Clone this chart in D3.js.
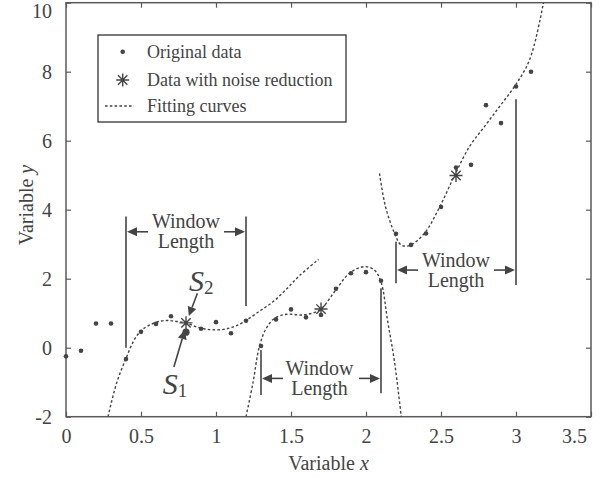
<!DOCTYPE html>
<html>
<head>
<meta charset="utf-8">
<script src="https://cdnjs.cloudflare.com/ajax/libs/d3/7.8.5/d3.min.js"></script>
<style>
	body { margin: 0; background: #fff; }
	svg text { font-family: "Liberation Serif", "Times New Roman", serif; fill: #444; }
</style>
</head>
<body>
<div id="chart"></div>
<script>
// tick values
var xTicks = [0, 0.5, 1, 1.5, 2, 2.5, 3, 3.5],
	yTicks = [-2, 0, 2, 4, 6, 8, 10];

// original data
var originalX = [0, 0.1, 0.2, 0.3, 0.4, 0.5, 0.6, 0.7, 0.8, 0.9, 1.0, 1.1, 1.2, 1.3, 1.4, 1.5,
	1.6, 1.7, 1.8, 1.9, 2.0, 2.1, 2.2, 2.3, 2.4, 2.5, 2.6, 2.7, 2.8, 2.9, 3.0, 3.1];
var originalY = [-0.25, -0.09, 0.70, 0.70, -0.33, 0.46, 0.69, 0.91, 0.45, 0.55, 0.74, 0.42, 0.78, 0.05, 0.82, 1.11,
	0.88, 0.95, 1.71, 2.16, 2.19, 1.94, 3.30, 2.98, 3.31, 4.08, 5.22, 5.30, 7.03, 6.51, 7.57, 8.00];

// data with noise reduction (window centres)
var reducedX = [0.8, 1.7, 2.6],
	reducedY = [0.72, 1.12, 4.99];

// fitting curves
var curveOne = [[0.28, -2.0], [0.337, -1.03], [0.40, -0.31], [0.448, 0.17], [0.497, 0.48], [0.55, 0.64],
	[0.62, 0.76], [0.68, 0.79], [0.74, 0.76], [0.80, 0.72], [0.86, 0.62], [0.92, 0.55], [0.98, 0.52],
	[1.05, 0.53], [1.12, 0.61], [1.19, 0.76], [1.29, 1.06], [1.38, 1.33], [1.47, 1.70], [1.557, 2.09], [1.684, 2.56]];
var curveTwo = [[1.20, -2.0], [1.246, -1.03], [1.29, 0.05], [1.335, 0.56], [1.39, 0.85], [1.47, 0.97],
	[1.58, 0.95], [1.69, 1.09], [1.79, 1.62], [1.89, 2.16], [1.99, 2.35], [2.056, 2.25], [2.10, 1.91],
	[2.145, 0.75], [2.19, -0.41], [2.235, -2.0]];
var curveThree = [[2.09, 5.05], [2.13, 4.09], [2.19, 3.32], [2.234, 2.98], [2.29, 2.96], [2.39, 3.32],
	[2.49, 4.07], [2.59, 4.99], [2.69, 5.83], [2.79, 6.41], [2.89, 6.99], [2.99, 7.57], [3.09, 8.34], [3.18, 9.93], [3.19, 10.2]];

// "Window Length" brackets, in data units
var windowLeft = [0.4, 1.3, 2.2],
	windowRight = [1.2, 2.1, 3.0],
	windowLeftSpan = [[0, 3.8], [-1.37, -0.07], [1.87, 3.07]],
	windowRightSpan = [[1.21, 3.8], [-1.32, 1.72], [1.82, 7.2]],
	windowArrowY = [3.36, -0.89, 2.25],
	windowTextX = [0.8, 1.69, 2.6];

var width = 611, height = 478,
	plotLeft = 66, plotRight = 591, plotTop = 2.7, plotBottom = 416.7,
	ink = "#444", axisColor = "#5a5a5a";

var svg = d3.select("#chart").append("svg")
	.attr("width", width)
	.attr("height", height)
	.style("background", "#fff");

var x = d3.scaleLinear().domain([0, 3.5]).range([plotLeft, plotRight]);
var y = d3.scaleLinear().domain([-2, 10]).range([plotBottom, plotTop]);

svg.append("clipPath").attr("id", "plotClip")
	.append("rect")
	.attr("x", plotLeft).attr("y", plotTop)
	.attr("width", plotRight - plotLeft).attr("height", plotBottom - plotTop);

function plain(d) {
	// MATLAB style labels: plain hyphen for negatives
	return String(d);
}

function drawAxes() {
	var bottomAxis = d3.axisBottom(x).tickValues(xTicks).tickFormat(plain).tickSizeInner(-5).tickSizeOuter(0).tickPadding(12),
		leftAxis = d3.axisLeft(y).tickValues(yTicks).tickFormat(plain).tickSizeInner(-5).tickSizeOuter(0).tickPadding(14),
		topAxis = d3.axisTop(x).tickValues(xTicks).tickFormat("").tickSizeInner(-5).tickSizeOuter(0),
		rightAxis = d3.axisRight(y).tickValues(yTicks).tickFormat("").tickSizeInner(-5).tickSizeOuter(0);

	var gb = svg.append("g").attr("transform", "translate(0," + plotBottom + ")").call(bottomAxis);
	var gl = svg.append("g").attr("transform", "translate(" + plotLeft + ",0)").call(leftAxis);
	var gt = svg.append("g").attr("transform", "translate(0," + plotTop + ")").call(topAxis);
	var gr = svg.append("g").attr("transform", "translate(" + plotRight + ",0)").call(rightAxis);

	[gb, gl, gt, gr].forEach(function (g) {
		g.select(".domain").remove();
		g.selectAll(".tick line").attr("stroke", axisColor).attr("stroke-width", 1.2);
		g.selectAll("text").style("font-size", "20px").attr("fill", "#555");
	});
	// the end labels are nudged inside the picture in the original
	gb.selectAll(".tick text").filter(function (d) { return d === 3.5; }).attr("dx", -17);
	gl.selectAll(".tick text").filter(function (d) { return d === 10; }).attr("dy", "0.72em");

	svg.append("rect")
		.attr("x", plotLeft).attr("y", plotTop)
		.attr("width", plotRight - plotLeft).attr("height", plotBottom - plotTop)
		.attr("fill", "none")
		.attr("stroke", axisColor)
		.attr("stroke-width", 1.5);

	svg.append("text")
		.attr("x", (plotLeft + plotRight) / 2).attr("y", 470)
		.attr("text-anchor", "middle")
		.style("font-size", "20px")
		.attr("fill", "#555")
		.html("Variable <tspan font-style='italic'>x</tspan>");

	svg.append("text")
		.attr("transform", "translate(33,205) rotate(-90)")
		.attr("text-anchor", "middle")
		.style("font-size", "20px")
		.attr("fill", "#555")
		.html("Variable <tspan font-style='italic'>y</tspan>");
}

function starPath(cx, cy, r) {
	var d = r * 0.72;
	return "M" + (cx - r) + "," + cy + "H" + (cx + r) +
		"M" + cx + "," + (cy - r) + "V" + (cy + r) +
		"M" + (cx - d) + "," + (cy - d) + "L" + (cx + d) + "," + (cy + d) +
		"M" + (cx - d) + "," + (cy + d) + "L" + (cx + d) + "," + (cy - d);
}

function arrow(g, x1, y1, x2, y2, headLen, headHalf) {
	// shaft stops at the base of the filled head
	var a = Math.atan2(y2 - y1, x2 - x1),
		bx = x2 - headLen * Math.cos(a),
		by = y2 - headLen * Math.sin(a),
		px = -Math.sin(a) * headHalf,
		py = Math.cos(a) * headHalf;
	g.append("line")
		.attr("x1", x1).attr("y1", y1).attr("x2", bx).attr("y2", by)
		.attr("stroke", ink).attr("stroke-width", 1.6);
	g.append("path")
		.attr("d", "M" + x2 + "," + y2 + "L" + (bx + px) + "," + (by + py) + "L" + (bx - px) + "," + (by - py) + "Z")
		.attr("fill", ink);
}

function drawCurves() {
	var line = d3.line()
		.x(function (d) { return x(d[0]); })
		.y(function (d) { return y(d[1]); })
		.curve(d3.curveCatmullRom.alpha(0.5));

	svg.append("g").attr("clip-path", "url(#plotClip)")
		.selectAll("path")
		.data([curveOne, curveTwo, curveThree])
		.enter()
		.append("path")
		.attr("d", line)
		.attr("fill", "none")
		.attr("stroke", ink)
		.attr("stroke-width", 1.4)
		.attr("stroke-dasharray", "2.6,2.2");
}

function drawPoints() {
	svg.append("g").selectAll("circle")
		.data(originalX)
		.enter()
		.append("circle")
		.attr("cx", function (d) { return x(d); })
		.attr("cy", function (d, i) { return y(originalY[i]); })
		.attr("r", function (d) { return d === 0.8 ? 3.6 : 2.3; })
		.attr("fill", ink);

	svg.append("g").selectAll("path")
		.data(reducedX)
		.enter()
		.append("path")
		.attr("d", function (d, i) { return starPath(x(d), y(reducedY[i]), 6.5); })
		.attr("stroke", ink)
		.attr("stroke-width", 1.4)
		.attr("fill", "none");
}

function drawWindows() {
	var g = svg.append("g");
	windowLeft.forEach(function (xl, i) {
		var xr = windowRight[i],
			ay = y(windowArrowY[i]);
		g.append("line")
			.attr("x1", x(xl)).attr("x2", x(xl))
			.attr("y1", y(windowLeftSpan[i][0])).attr("y2", y(windowLeftSpan[i][1]))
			.attr("stroke", ink).attr("stroke-width", 1.6);
		g.append("line")
			.attr("x1", x(xr)).attr("x2", x(xr))
			.attr("y1", y(windowRightSpan[i][0])).attr("y2", y(windowRightSpan[i][1]))
			.attr("stroke", ink).attr("stroke-width", 1.6);
		arrow(g, x(xl) + 22, ay, x(xl) + 1, ay, 10, 4.5);
		arrow(g, x(xr) - 22, ay, x(xr) - 1, ay, 10, 4.5);
		g.append("text")
			.attr("x", x(windowTextX[i])).attr("y", ay - 3.3)
			.attr("text-anchor", "middle")
			.style("font-size", "20px")
			.text("Window");
		g.append("text")
			.attr("x", x(windowTextX[i])).attr("y", ay + 16.7)
			.attr("text-anchor", "middle")
			.style("font-size", "20px")
			.text("Length");
	});
}

function drawLabels() {
	var g = svg.append("g");
	// S2 points at the noise-reduced value, S1 at the raw one
	g.append("text")
		.attr("x", x(0.82)).attr("y", y(1.64))
		.style("font-size", "30px")
		.html("<tspan font-style='italic'>S</tspan><tspan dy='3' style='font-size:19px'>2</tspan>");
	arrow(g, x(0.876), y(1.58), x(0.819), y(0.92), 9, 4.5);

	g.append("text")
		.attr("x", x(0.645)).attr("y", y(-1.34))
		.style("font-size", "30px")
		.html("<tspan font-style='italic'>S</tspan><tspan dy='3' style='font-size:19px'>1</tspan>");
	arrow(g, x(0.719), y(-0.56), x(0.792), y(0.51), 9, 4.5);
}

function drawLegend() {
	var g = svg.append("g");
	g.append("rect")
		.attr("x", 98).attr("y", 35)
		.attr("width", 248).attr("height", 87)
		.attr("fill", "#fff")
		.attr("stroke", "#333")
		.attr("stroke-width", 1.3);
	g.append("circle").attr("cx", 122.7).attr("cy", 51.7).attr("r", 2.3).attr("fill", ink);
	g.append("path").attr("d", starPath(122.7, 80, 6.5))
		.attr("stroke", ink).attr("stroke-width", 1.4).attr("fill", "none");
	g.append("line")
		.attr("x1", 105).attr("x2", 134).attr("y1", 106).attr("y2", 106)
		.attr("stroke", ink).attr("stroke-width", 1.4).attr("stroke-dasharray", "2.6,2.2");

	g.selectAll("text.legend")
		.data(["Original data", "Data with noise reduction", "Fitting curves"])
		.enter()
		.append("text")
		.attr("x", 147)
		.attr("y", function (d, i) { return [58, 86, 112][i]; })
		.style("font-size", "18px")
		.text(function (d) { return d; });
}

drawAxes();
drawCurves();
drawWindows();
drawPoints();
drawLabels();
drawLegend();
</script>
</body>
</html>
